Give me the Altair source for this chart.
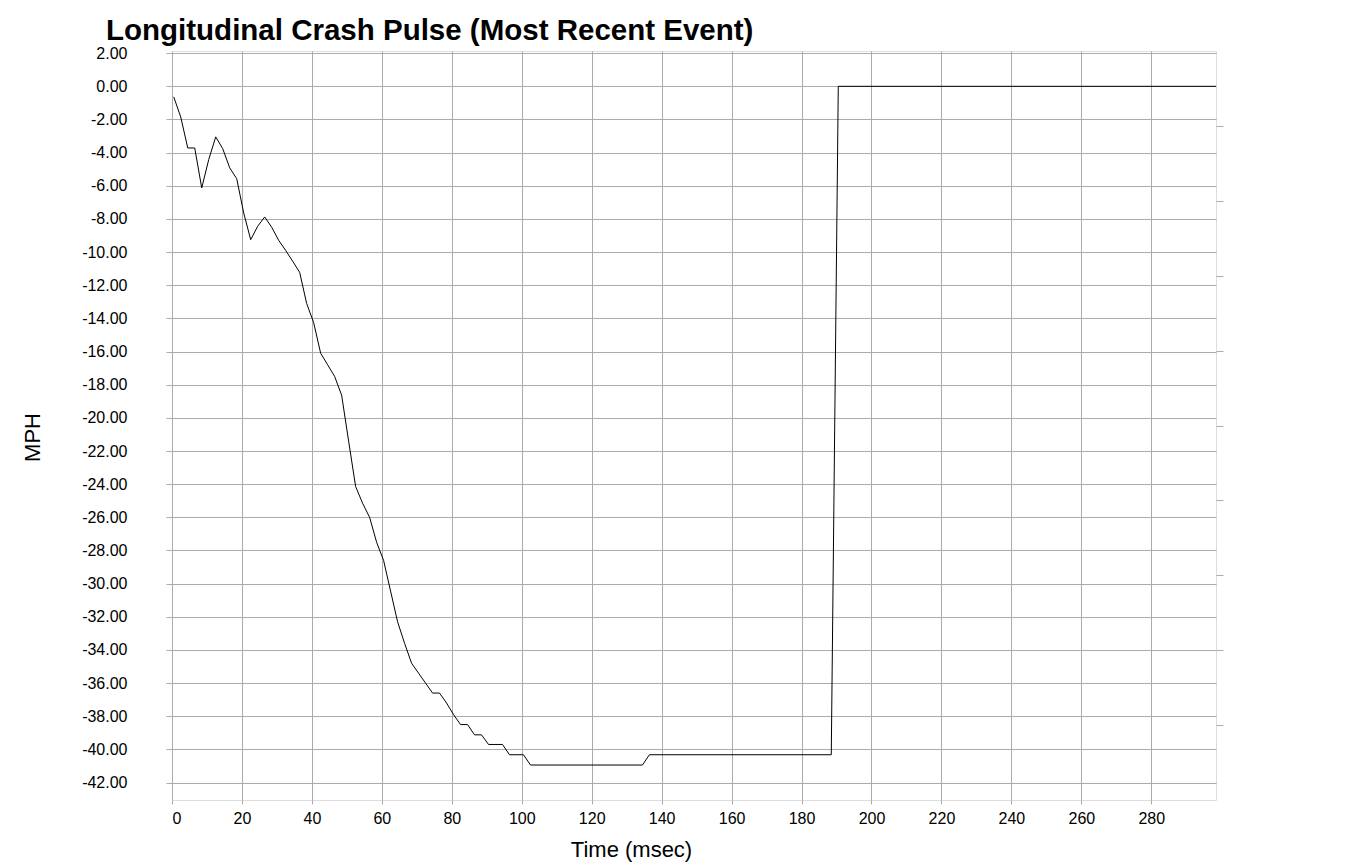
import altair as alt
import pandas as pd

# Crash pulse vertices (time in ms, delta-V in MPH)
time_ms = [0.5, 2.5, 4.5, 6.5, 8.5, 10.5, 12.5, 14.5, 16.5, 18.5,
           20.5, 22.5, 24.5, 26.5, 28.5, 30.5, 32.5, 34.5, 36.5, 38.5,
           40.5, 42.5, 44.5, 46.5, 48.5, 50.5, 52.5, 54.5, 56.5, 58.5,
           60.5, 62.5, 64.5, 66.5, 68.5, 70.5, 72.5, 74.5, 76.5, 78.5,
           80.5, 82.5, 84.5, 86.5, 88.5, 90.5, 94.5, 96.5, 100.5, 102.5,
           134.5, 136.5, 188.5, 190.5, 298.5]
mph = [-0.64, -1.85, -3.72, -3.72, -6.13, -4.42, -3.05, -3.76, -4.92, -5.57,
       -7.64, -9.25, -8.44, -7.88, -8.50, -9.29, -9.90, -10.55, -11.22, -13.10,
       -14.25, -16.10, -16.80, -17.50, -18.63, -21.40, -24.14, -25.15, -26.00, -27.50,
       -28.60, -30.45, -32.30, -33.60, -34.80, -35.40, -36.00, -36.60, -36.60, -37.20,
       -37.90, -38.50, -38.50, -39.12, -39.12, -39.70, -39.70, -40.32, -40.32, -40.94,
       -40.94, -40.32, -40.32, 0.00, 0.00]

x_tick_values = [0, 20, 40, 60, 80, 100, 120, 140, 160, 180, 200, 220, 240, 260, 280]
y_tick_values = [2, 0, -2, -4, -6, -8, -10, -12, -14, -16, -18, -20, -22, -24,
                 -26, -28, -30, -32, -34, -36, -38, -40, -42]
right_tick_values = [1, 2, 3, 4, 5, 6, 7, 8, 9]

df = pd.DataFrame({"t": time_ms, "v": mph})
df_right = pd.DataFrame({"p": right_tick_values})

FONT = "Liberation Sans"
GRID = "#ababab"

line = alt.Chart(df).mark_line(color="black", strokeWidth=1).encode(
    x=alt.X("t:Q",
            scale=alt.Scale(domain=[0, 298.5], nice=False, zero=False),
            axis=alt.Axis(values=x_tick_values, format="d", title="Time (msec)",
                          grid=True, gridColor=GRID, domain=False,
                          tickSize=4, tickColor=GRID, labelPadding=6,
                          labelFontSize=16, labelColor="black", labelFont=FONT,
                          titleFont=FONT, titleFontSize=22, titleFontWeight="normal",
                          titleColor="black", titleBaseline="alphabetic",
                          titleY=56, titleX=459)),
    y=alt.Y("v:Q",
            scale=alt.Scale(domain=[-43.05, 2.13], nice=False, zero=False),
            axis=alt.Axis(values=y_tick_values,
                          labelExpr="replace(format(datum.value, '.2f'), '\u2212', '-')",
                          title="MPH", grid=True, gridColor=GRID, domain=False,
                          tickSize=6, tickColor=GRID, labelPadding=39,
                          labelFontSize=16, labelColor="black", labelFont=FONT,
                          titleFont=FONT, titleFontSize=22, titleFontWeight="normal",
                          titleColor="black", titleAngle=270, titleAlign="center",
                          titleBaseline="middle", titleX=-140, titleY=386)),
)

right_axis = alt.Chart(df_right).mark_tick(opacity=0).encode(
    y=alt.Y("p:Q",
            scale=alt.Scale(domain=[0, 10], nice=False, zero=False),
            axis=alt.Axis(orient="right", values=right_tick_values, labels=False,
                          title="", grid=False, domain=False, tickSize=7,
                          tickColor=GRID)),
)

chart = alt.layer(line, right_axis).resolve_scale(y="independent").properties(
    width=1044,
    height=749,
    autosize=alt.AutoSizeParams(type="none"),
    padding={"left": 164, "top": 43, "right": 123, "bottom": 64},
    title=alt.Title("Longitudinal Crash Pulse (Most Recent Event)",
                    anchor="start", frame="group", font=FONT, fontSize=29.5,
                    fontWeight="bold", color="black", dx=-66, dy=32,
                    baseline="alphabetic", offset=8),
).configure_view(stroke="#b4b4b4", strokeWidth=1).configure(background="white")

chart.save("out.html", embed_options={"renderer": "svg", "actions": False})
